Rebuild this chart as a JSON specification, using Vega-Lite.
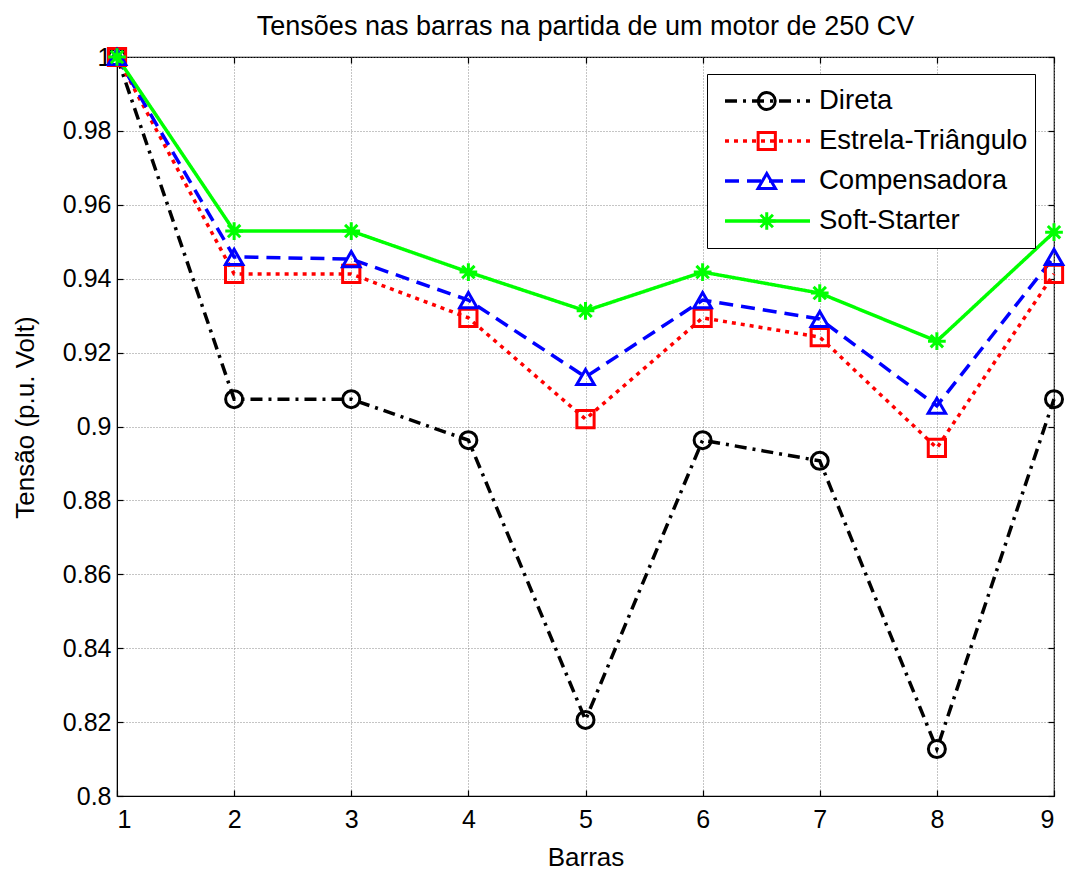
{
  "$schema": "https://vega.github.io/schema/vega-lite/v6.json",
  "width": 937,
  "height": 739,
  "autosize": {"type": "none"},
  "padding": {"left": 117, "top": 57, "right": 12, "bottom": 74},
  "background": "white",
  "config": {
    "font": "Liberation Sans",
    "view": {"stroke": "black", "strokeWidth": 1.2},
    "axis": {
      "labelFont": "Liberation Sans",
      "labelFontSize": 25,
      "labelColor": "black",
      "titleFont": "Liberation Sans",
      "titleFontSize": 26,
      "titleFontWeight": "normal",
      "titleColor": "black",
      "domainColor": "black",
      "tickColor": "black",
      "tickSize": -6,
      "tickWidth": 1.2,
      "grid": true,
      "gridColor": "#8a8a8a",
      "gridDash": [1, 2],
      "gridWidth": 1,
      "gridOpacity": 1
    }
  },
  "title": {
    "text": "Tensões nas barras na partida de um motor de 250 CV",
    "font": "Liberation Sans",
    "fontSize": 27,
    "fontWeight": "normal",
    "color": "black",
    "anchor": "middle",
    "frame": "group",
    "baseline": "bottom",
    "offset": 15,
    "dy": 41
  },
  "data": {
    "values": [
      {"barra": 1, "tensao": 1.0, "serie": "Direta"},
      {"barra": 2, "tensao": 0.9074, "serie": "Direta"},
      {"barra": 3, "tensao": 0.9074, "serie": "Direta"},
      {"barra": 4, "tensao": 0.8963, "serie": "Direta"},
      {"barra": 5, "tensao": 0.8206, "serie": "Direta"},
      {"barra": 6, "tensao": 0.8963, "serie": "Direta"},
      {"barra": 7, "tensao": 0.8907, "serie": "Direta"},
      {"barra": 8, "tensao": 0.8127, "serie": "Direta"},
      {"barra": 9, "tensao": 0.9074, "serie": "Direta"},
      {"barra": 1, "tensao": 1.0, "serie": "Estrela-Triângulo"},
      {"barra": 2, "tensao": 0.9413, "serie": "Estrela-Triângulo"},
      {"barra": 3, "tensao": 0.9413, "serie": "Estrela-Triângulo"},
      {"barra": 4, "tensao": 0.9294, "serie": "Estrela-Triângulo"},
      {"barra": 5, "tensao": 0.902, "serie": "Estrela-Triângulo"},
      {"barra": 6, "tensao": 0.9294, "serie": "Estrela-Triângulo"},
      {"barra": 7, "tensao": 0.9242, "serie": "Estrela-Triângulo"},
      {"barra": 8, "tensao": 0.8942, "serie": "Estrela-Triângulo"},
      {"barra": 9, "tensao": 0.9413, "serie": "Estrela-Triângulo"},
      {"barra": 1, "tensao": 1.0, "serie": "Compensadora"},
      {"barra": 2, "tensao": 0.9459, "serie": "Compensadora"},
      {"barra": 3, "tensao": 0.9453, "serie": "Compensadora"},
      {"barra": 4, "tensao": 0.9342, "serie": "Compensadora"},
      {"barra": 5, "tensao": 0.9134, "serie": "Compensadora"},
      {"barra": 6, "tensao": 0.9342, "serie": "Compensadora"},
      {"barra": 7, "tensao": 0.9291, "serie": "Compensadora"},
      {"barra": 8, "tensao": 0.9056, "serie": "Compensadora"},
      {"barra": 9, "tensao": 0.9459, "serie": "Compensadora"},
      {"barra": 1, "tensao": 1.0, "serie": "Soft-Starter"},
      {"barra": 2, "tensao": 0.9529, "serie": "Soft-Starter"},
      {"barra": 3, "tensao": 0.9529, "serie": "Soft-Starter"},
      {"barra": 4, "tensao": 0.9418, "serie": "Soft-Starter"},
      {"barra": 5, "tensao": 0.9313, "serie": "Soft-Starter"},
      {"barra": 6, "tensao": 0.9418, "serie": "Soft-Starter"},
      {"barra": 7, "tensao": 0.9361, "serie": "Soft-Starter"},
      {"barra": 8, "tensao": 0.9231, "serie": "Soft-Starter"},
      {"barra": 9, "tensao": 0.9526, "serie": "Soft-Starter"}
    ]
  },
  "layer": [
    {
      "mark": {"type": "line", "strokeWidth": 3.5},
      "encoding": {
        "x": {
          "field": "barra",
          "type": "quantitative",
          "title": "Barras",
          "scale": {"domain": [1, 9], "zero": false, "nice": false},
          "axis": {"values": [1, 2, 3, 4, 5, 6, 7, 8, 9], "format": "d", "labelPadding": 17, "titlePadding": 12}
        },
        "y": {
          "field": "tensao",
          "type": "quantitative",
          "title": "Tensão (p.u. Volt)",
          "scale": {"domain": [0.8, 1.0], "zero": false, "nice": false},
          "axis": {"values": [0.8, 0.82, 0.84, 0.86, 0.88, 0.9, 0.92, 0.94, 0.96, 0.98, 1.0], "format": "~g", "labelPadding": 12, "titlePadding": 24, "titleY": 360}
        },
        "color": {
          "field": "serie",
          "type": "nominal",
          "sort": ["Direta", "Estrela-Triângulo", "Compensadora", "Soft-Starter"],
          "scale": {"domain": ["Direta", "Estrela-Triângulo", "Compensadora", "Soft-Starter"], "range": ["#000000", "#ff0000", "#0000ff", "#00ff00"]},
          "legend": {
            "title": null,
            "orient": "none",
            "legendX": 590,
            "legendY": 17,
            "strokeColor": "black",
            "fillColor": "white",
            "padding": 7,
            "symbolType": "stroke",
            "symbolSize": 7225,
            "symbolStrokeWidth": 3.5,
            "symbolOffset": 9,
            "clipHeight": 40,
            "rowPadding": 0,
            "labelOffset": 7,
            "labelFontSize": 27.5,
            "labelFont": "Liberation Sans",
            "labelColor": "black",
            "labelLimit": 400,
            "zindex": 1
          }
        },
        "strokeDash": {
          "field": "serie",
          "type": "nominal",
          "sort": ["Direta", "Estrela-Triângulo", "Compensadora", "Soft-Starter"],
          "scale": {"domain": ["Direta", "Estrela-Triângulo", "Compensadora", "Soft-Starter"], "range": [[12, 6, 3, 6], [4, 5], [14, 8], [1, 0]]}
        }
      }
    },
    {
      "mark": {"type": "point", "filled": false, "strokeWidth": 3, "opacity": 1},
      "encoding": {
        "x": {
          "field": "barra",
          "type": "quantitative",
          "axis": {"orient": "top", "values": [1, 2, 3, 4, 5, 6, 7, 8, 9], "labels": false, "title": null, "grid": false, "domain": false}
        },
        "y": {
          "field": "tensao",
          "type": "quantitative",
          "axis": {"orient": "right", "values": [0.8, 0.82, 0.84, 0.86, 0.88, 0.9, 0.92, 0.94, 0.96, 0.98, 1.0], "labels": false, "title": null, "grid": false, "domain": false}
        },
        "color": {
          "field": "serie",
          "type": "nominal",
          "sort": ["Direta", "Estrela-Triângulo", "Compensadora", "Soft-Starter"],
          "scale": {"domain": ["Direta", "Estrela-Triângulo", "Compensadora", "Soft-Starter"], "range": ["#000000", "#ff0000", "#0000ff", "#00ff00"]},
          "legend": {
            "title": null,
            "orient": "none",
            "legendX": 590,
            "legendY": 17,
            "padding": 7,
            "symbolStrokeWidth": 3,
            "symbolOffset": 39,
            "clipHeight": 40,
            "rowPadding": 0,
            "labelFontSize": 27.5,
            "labelExpr": "''",
            "zindex": 2
          }
        },
        "shape": {
          "field": "serie",
          "type": "nominal",
          "sort": ["Direta", "Estrela-Triângulo", "Compensadora", "Soft-Starter"],
          "scale": {"domain": ["Direta", "Estrela-Triângulo", "Compensadora", "Soft-Starter"], "range": ["circle", "square", "triangle-up", "M0,-1L0,1M-1,0L1,0M-0.7,-0.7L0.7,0.7M-0.7,0.7L0.7,-0.7"]}
        },
        "size": {
          "field": "serie",
          "type": "ordinal",
          "sort": ["Direta", "Estrela-Triângulo", "Compensadora", "Soft-Starter"],
          "scale": {"domain": ["Direta", "Estrela-Triângulo", "Compensadora", "Soft-Starter"], "range": [289, 313, 560, 200]}
        }
      }
    }
  ],
  "resolve": {"scale": {"color": "independent", "shape": "independent", "strokeDash": "independent", "size": "independent"}, "legend": {"color": "independent", "shape": "independent", "strokeDash": "independent", "size": "independent"}, "axis": {"x": "independent", "y": "independent"}}
}
